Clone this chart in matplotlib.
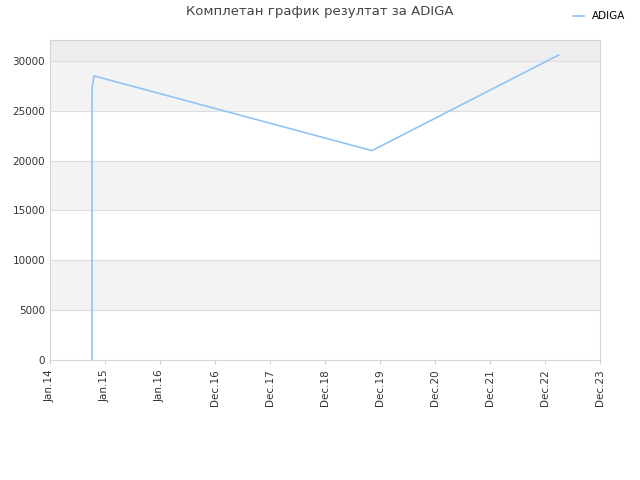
import matplotlib
matplotlib.use("Agg")
import matplotlib.pyplot as plt
import matplotlib.dates as mdates
import pandas as pd

dates = pd.to_datetime(["2014-10-07", "2014-10-07", "2014-10-08", "2014-10-10", "2014-10-20", "2019-11-08", "2023-04-01"])
values = [0, 26000, 27500, 27500, 28500, 21000, 30600]
tick_dates = pd.to_datetime(["2014-01-01", "2015-01-01", "2016-01-01", "2016-12-31", "2017-12-31",
                             "2018-12-31", "2019-12-31", "2020-12-31", "2021-12-31", "2022-12-31", "2023-12-31"])
tick_labels = ["Jan.14", "Jan.15", "Jan.16", "Dec.16", "Dec.17", "Dec.18", "Dec.19", "Dec.20", "Dec.21", "Dec.22", "Dec.23"]

fig = plt.figure(figsize=(6.4, 4.8), dpi=100)
ax = fig.add_axes([50/640, 1-360/480, 550/640, 320/480])
ymax = 32100
for lo in range(0, 35000, 5000):
    hi = min(lo + 5000, ymax)
    if lo >= 30000:
        c = "#eeeeee"
    elif (lo // 5000) % 2 == 1:
        c = "#f3f3f3"
    else:
        c = "#ffffff"
    ax.axhspan(lo, hi, color=c, zorder=0, lw=0)
for y in range(5000, 31000, 5000):
    ax.axhline(y, color="#dddddd", lw=0.8, zorder=1)
ax.plot(dates, values, color="#90c4f5", lw=1.2, zorder=2, label="ADIGA")
ax.set_xlim(tick_dates[0], tick_dates[-1])
ax.set_ylim(0, ymax)
ax.set_xticks(tick_dates)
ax.set_xticklabels(tick_labels, rotation=90, fontsize=7.5, color="#333333")
ax.set_yticks(range(0, 30001, 5000))
ax.tick_params(axis="y", labelsize=7.5, colors="#333333", length=0)
ax.tick_params(axis="x", length=3, color="#cccccc")
for s in ax.spines.values():
    s.set_color("#d5d5d5")
fig.text(0.5, 1-12/480, "Комплетан график резултат за ADIGA", ha="center", va="center", fontsize=9.5, color="#444444")
fig.legend(loc="upper right", bbox_to_anchor=(635/640, 1-2/480), frameon=False, fontsize=7.5, handlelength=1.0)
fig.savefig("out.png", dpi=100)
